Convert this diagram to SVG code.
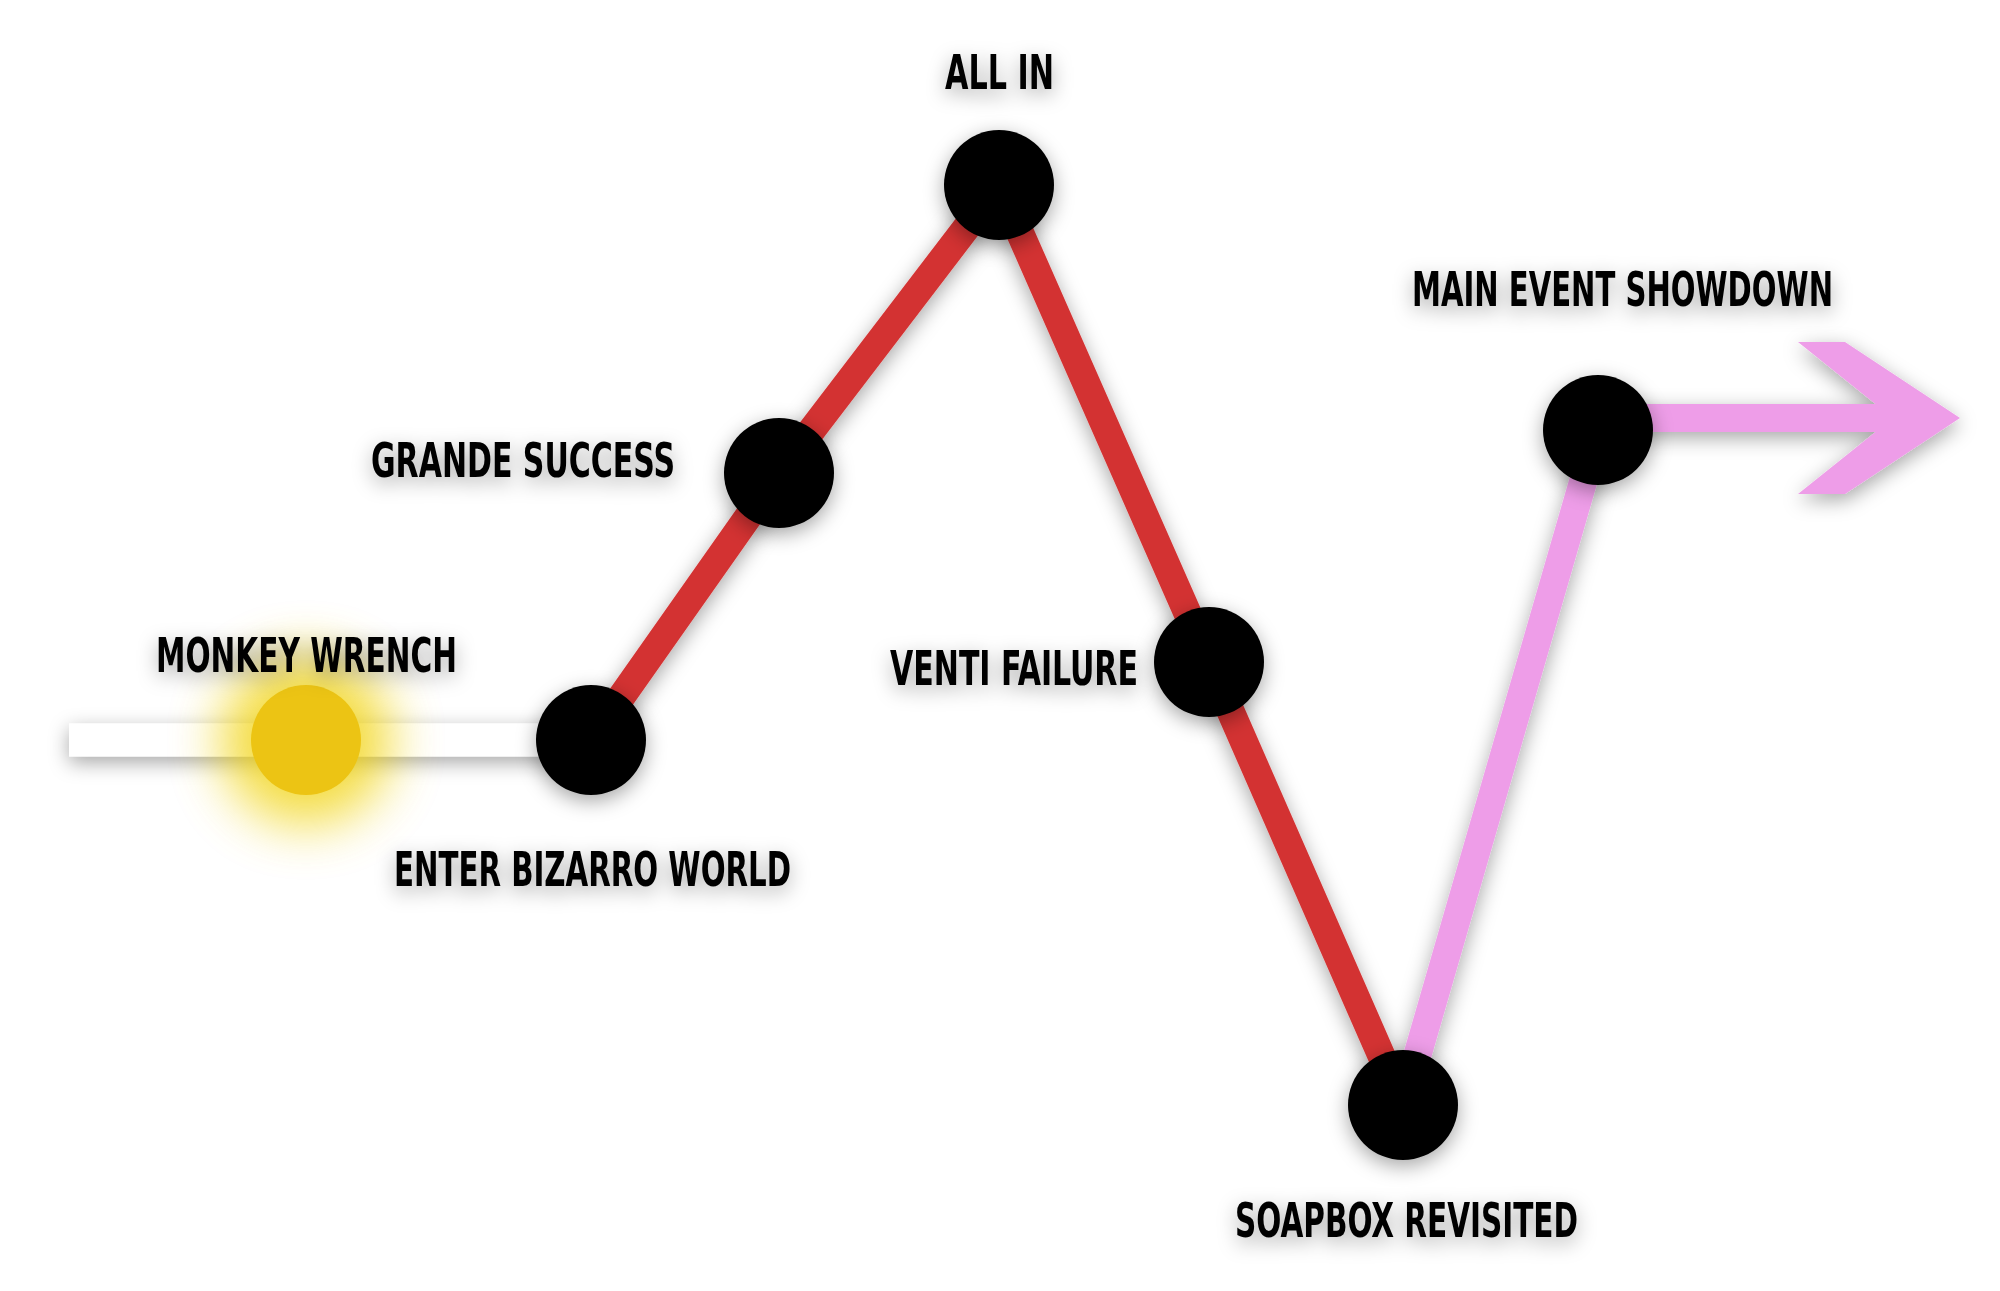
<svg xmlns="http://www.w3.org/2000/svg" width="2000" height="1291" viewBox="0 0 2000 1291">
<defs>
<filter id="sh" x="-30%" y="-60%" width="160%" height="220%"><feDropShadow dx="0" dy="6" stdDeviation="10" flood-color="#000" flood-opacity="0.35"/></filter>
<filter id="glow" x="-100%" y="-100%" width="300%" height="300%"><feGaussianBlur stdDeviation="26"/></filter>
<style>
.lbl{font-family:"DejaVu Sans Condensed","Liberation Sans",sans-serif;font-weight:bold;font-size:48px;fill:#000;filter:url(#sh)}
.node{fill:#000;filter:url(#sh)}
.red{stroke:#d33333;stroke-width:28;fill:none}
.pink{stroke:#ee9de8;stroke-width:28;fill:none}
</style>
</defs>
<rect width="2000" height="1291" fill="#fff"/>
<g id="connectors" filter="url(#sh)">
<line x1="69" y1="740" x2="591" y2="740" stroke="#fff" stroke-width="33"/>
<polyline class="red" points="591,740 779,473 999,185 1209,662 1403,1105"/>
<polyline class="pink" points="1403,1105 1598,430"/>
<line class="pink" x1="1598" y1="418" x2="1900" y2="418"/>
<polygon points="1798,342 1845,342 1960,418 1845,494 1798,494 1893,418" fill="#ee9de8"/>
</g>
<g id="monkey-wrench"><circle cx="306" cy="740" r="85" fill="#f0d000" opacity="0.75" filter="url(#glow)"/><circle cx="306" cy="740" r="55" fill="#ecc414"/><text class="lbl" x="156" y="672" textLength="301" lengthAdjust="spacingAndGlyphs">MONKEY WRENCH</text></g>
<g id="enter-bizarro"><circle class="node" cx="591" cy="740" r="55"/><text class="lbl" x="394" y="886" textLength="397" lengthAdjust="spacingAndGlyphs">ENTER BIZARRO WORLD</text></g>
<g id="grande"><circle class="node" cx="779" cy="473" r="55"/><text class="lbl" x="371" y="477" textLength="304" lengthAdjust="spacingAndGlyphs">GRANDE SUCCESS</text></g>
<g id="all-in"><circle class="node" cx="999" cy="185" r="55"/><text class="lbl" x="945" y="89" textLength="109" lengthAdjust="spacingAndGlyphs">ALL IN</text></g>
<g id="venti"><circle class="node" cx="1209" cy="662" r="55"/><text class="lbl" x="890" y="685" textLength="248" lengthAdjust="spacingAndGlyphs">VENTI FAILURE</text></g>
<g id="soapbox"><circle class="node" cx="1403" cy="1105" r="55"/><text class="lbl" x="1235" y="1237" textLength="343" lengthAdjust="spacingAndGlyphs">SOAPBOX REVISITED</text></g>
<g id="main-event"><circle class="node" cx="1598" cy="430" r="55"/><text class="lbl" x="1412" y="306" textLength="421" lengthAdjust="spacingAndGlyphs">MAIN EVENT SHOWDOWN</text></g>
</svg>
